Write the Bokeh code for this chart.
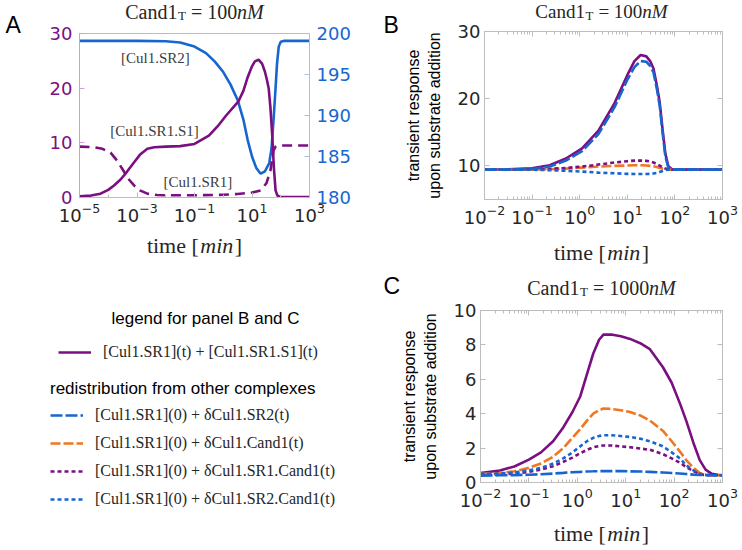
import numpy as np
from bokeh.plotting import figure
from bokeh.models import (Range1d, LinearAxis, LogAxis, FixedTicker, Label,
                          Legend, LegendItem)
from bokeh.layouts import row, column
from bokeh.embed import file_html
from bokeh.resources import INLINE

# ---------------- data ----------------
# Panel A (Cand1_T = 100 nM): time exponents (log10 min) and concentrations
a_sr2_logt = [-5, -3, -2, -1.5, -1, -0.6, -0.3, 0, 0.25, 0.5, 0.7, 0.85, 1.0, 1.15,
              1.3, 1.45, 1.6, 1.68, 1.75, 1.81, 1.87, 1.93, 2.0, 2.1, 3]
a_sr2 = [199.1, 199.1, 199.05, 198.9, 198.4, 197.6, 196.6, 195.3, 193.8, 191.9, 189.5,
         187.0, 185.0, 183.6, 182.9, 183.2, 184.2, 186.0, 189.5, 192.8, 196.3, 198.4,
         199.0, 199.1, 199.1]
a_s1_logt = [-5, -4.6, -4.27, -4.0, -3.8, -3.57, -3.35, -3.12, -2.9, -2.64, -2.4, -2.0,
             -1.5, -1.0, -0.5, -0.2, 0.1, 0.4, 0.53, 0.7, 0.85, 1.0, 1.1, 1.23, 1.35,
             1.45, 1.52, 1.58, 1.64, 1.70, 1.76, 1.82, 1.88, 1.95, 3]
a_s1 = [0.2, 0.35, 0.7, 1.4, 2.2, 3.3, 4.7, 6.3, 7.8, 8.9, 9.2, 9.3, 9.4, 9.8, 11.3,
        13.0, 15.0, 16.8, 17.6, 19.5, 22.0, 24.0, 24.9, 25.2, 24.5, 23.0, 21.5, 20.0,
        16.5, 11.7, 5.5, 1.3, 0.4, 0.15, 0.1]
a_sr1_logt = [-5, -4.5, -4.2, -3.92, -3.7, -3.47, -3.3, -3.1, -2.9, -2.64, -2.3, -2.0,
              -1.0, 0.0, 0.5, 1.0, 1.3, 1.5, 1.64, 1.75, 1.82, 1.9, 2.0, 3]
a_sr1 = [9.3, 9.2, 8.9, 8.2, 6.8, 4.9, 3.4, 2.2, 1.3, 0.7, 0.45, 0.4, 0.4, 0.5, 0.65,
         0.9, 1.3, 2.6, 4.9, 8.6, 9.3, 9.5, 9.5, 9.5]

# Panel B (Cand1_T = 100 nM)
b_logt = [-2, -1.5, -1, -0.63, -0.29, 0.05, 0.39, 0.73, 1.0, 1.15, 1.28, 1.4, 1.48,
          1.55, 1.62, 1.68, 1.74, 1.8, 1.86, 1.93, 2.0, 2.2, 3]
b_total = [9.45, 9.5, 9.65, 10.1, 11.1, 12.6, 15.2, 19.3, 23.5, 25.6, 26.5, 26.3, 25.6,
           24.5, 22.0, 19.5, 15.5, 11.8, 10.0, 9.55, 9.45, 9.45, 9.45]
b_sr2 = [9.45, 9.45, 9.55, 9.9, 10.8, 12.2, 14.7, 18.7, 22.8, 24.7, 25.6, 25.5, 24.9,
         23.9, 21.5, 19.0, 15.0, 11.4, 9.8, 9.5, 9.45, 9.45, 9.45]
b_cand1 = [9.45, 9.45, 9.45, 9.5, 9.6, 9.75, 9.9, 10.0, 10.05, 10.1, 10.1, 10.05, 10.0,
           9.95, 9.85, 9.7, 9.6, 9.5, 9.45, 9.45, 9.45, 9.45, 9.45]
b_sr1cand1 = [9.45, 9.45, 9.5, 9.55, 9.7, 9.9, 10.2, 10.5, 10.7, 10.78, 10.8, 10.75,
              10.65, 10.5, 10.3, 10.05, 9.8, 9.6, 9.5, 9.45, 9.45, 9.45, 9.45]
b_sr2cand1 = [9.45, 9.45, 9.43, 9.37, 9.27, 9.15, 9.0, 8.9, 8.82, 8.8, 8.8, 8.8, 8.82,
              8.86, 8.95, 9.1, 9.25, 9.4, 9.45, 9.45, 9.45, 9.45, 9.45]

# Panel C (Cand1_T = 1000 nM)
c_logt = [-2, -1.6, -1.3, -1.0, -0.75, -0.5, -0.29, -0.1, 0.06, 0.2, 0.33, 0.45, 0.54,
          0.7, 0.9, 1.09, 1.3, 1.5, 1.77, 1.95, 2.12, 2.25, 2.4, 2.53, 2.65, 2.78, 2.9, 3]
c_total = [0.55, 0.7, 0.93, 1.33, 1.75, 2.4, 3.2, 4.1, 5.0, 6.3, 7.5, 8.3, 8.6, 8.6,
           8.5, 8.35, 8.1, 7.75, 6.7, 5.8, 4.6, 3.6, 2.3, 1.3, 0.75, 0.5, 0.45, 0.42]
c_cand1 = [0.5, 0.55, 0.65, 0.85, 1.1, 1.5, 2.0, 2.6, 3.1, 3.6, 4.0, 4.2, 4.3, 4.28,
           4.2, 4.1, 3.9, 3.6, 3.0, 2.4, 1.8, 1.3, 0.85, 0.55, 0.45, 0.42, 0.42, 0.42]
c_sr2cand1 = [0.5, 0.52, 0.58, 0.7, 0.85, 1.1, 1.4, 1.75, 2.1, 2.4, 2.6, 2.7, 2.75,
              2.75, 2.7, 2.65, 2.55, 2.4, 2.1, 1.75, 1.4, 1.0, 0.7, 0.5, 0.45, 0.42,
              0.42, 0.42]
c_sr1cand1 = [0.45, 0.47, 0.52, 0.62, 0.75, 0.95, 1.2, 1.45, 1.7, 1.9, 2.05, 2.12, 2.15,
              2.15, 2.1, 2.05, 1.98, 1.9, 1.65, 1.4, 1.15, 0.9, 0.65, 0.48, 0.43, 0.42,
              0.42, 0.42]
c_sr2 = [0.4, 0.42, 0.43, 0.45, 0.48, 0.52, 0.56, 0.6, 0.62, 0.64, 0.65, 0.66, 0.66,
         0.66, 0.66, 0.65, 0.64, 0.62, 0.58, 0.55, 0.52, 0.49, 0.46, 0.44, 0.43, 0.42,
         0.42, 0.42]

a_left_ticks = [0, 10, 20, 30]
a_right_ticks = [180, 185, 190, 195, 200]
a_x_ticks = [1e-5, 1e-3, 1e-1, 1e1, 1e3]
bc_x_ticks = [1e-2, 1e-1, 1e0, 1e1, 1e2, 1e3]

legend_labels = [
    "[Cul1.SR1](t) + [Cul1.SR1.S1](t)",
    "[Cul1.SR1](0) + δCul1.SR2(t)",
    "[Cul1.SR1](0) + δCul1.Cand1(t)",
    "[Cul1.SR1](0) + δCul1.SR1.Cand1(t)",
    "[Cul1.SR1](0) + δCul1.SR2.Cand1(t)",
]

# ---------------- styles ----------------
PURPLE = "#7B0F82"
BLUE = "#1766D0"
ORANGE = "#F27520"
TXT = "#262626"
AXC = "#BDBDBD"
SERIF = "Liberation Serif"
SANS = "Liberation Sans"
TICKF = "DejaVu Sans"
LW = 2.6

STY = {
    "total": dict(color=PURPLE, line_dash="solid"),
    "sr2": dict(color=BLUE, line_dash="12 3"),
    "cand1": dict(color=ORANGE, line_dash="10 3"),
    "sr1cand1": dict(color=PURPLE, line_dash="4 3"),
    "sr2cand1": dict(color=BLUE, line_dash="4 3"),
}

TW = {' ': 250, '[': 333, ']': 333, 'a': 444, 'C': 667, 'd': 500, 'e': 444, 'i': 278,
      'm': 778, 'n': 500, 't': 278, 'T': 611, '=': 564, '0': 500, '1': 500, 'M': 889}
TWI = {'m': 722, 'i': 278, 'n': 500, 'M': 833}


def tw(s, size, italic):
    return float(sum((TWI.get(c, TW.get(c, 500)) if italic else TW.get(c, 500))
                     for c in s) * size / 1000.0)


def math_text(p, xc, yc, parts):
    total = sum(g + tw(t, s, it) for t, s, it, dy, g in parts)
    cur = xc - total / 2.0
    for t, s, it, dy, g in parts:
        cur += g
        p.add_layout(Label(x=round(cur, 1), y=yc + dy, text=t,
                           text_font=SERIF, text_font_size=f"{s}px",
                           text_font_style="italic" if it else "normal",
                           text_line_height=0.9,
                           text_color=TXT, text_align="left", text_baseline="middle"))
        cur += tw(t, s, it)


def title_parts(conc, sub_dy=-4, size=20):
    return [("Cand1", size, False, 0, 0), ("T", 13, False, sub_dy, 0.5),
            ("= " + conc, size, False, 0, 5), ("nM", size, True, 0, 0)]


time_parts = [("time [", 22, False, 0, 0), ("min", 22, True, 0, 1.5), ("]", 22, False, 0, 1.5)]


def style_axis(ax, lbl_color=TXT, line_color=AXC, size="18px"):
    ax.major_label_text_font = TICKF
    ax.major_label_text_font_size = size
    ax.major_label_text_color = lbl_color
    ax.major_label_text_line_height = 1.0
    ax.axis_line_color = line_color
    ax.major_tick_line_color = line_color
    ax.minor_tick_line_color = line_color
    ax.major_tick_in = 5
    ax.major_tick_out = 0
    ax.minor_tick_in = 3
    ax.minor_tick_out = 0
    ax.major_label_standoff = 5


def mirror_axes(p, xticker, yticker):
    top = LogAxis(ticker=xticker)
    style_axis(top, size="2px")
    top.major_label_text_alpha = 0
    top.major_label_standoff = 0
    p.add_layout(top, "above")
    right = LinearAxis(ticker=yticker)
    style_axis(right, size="2px")
    right.major_label_text_alpha = 0
    right.major_label_standoff = 0
    p.add_layout(right, "right")


def letter(p, x, y, s):
    p.add_layout(Label(x=x, y=y, text=s, text_font=SANS, text_font_size="23px",
                       text_color="black", text_align="left", text_baseline="middle"))


def base_fig(w, h, xr, yr, l, r, t, b):
    p = figure(width=w, height=h, x_axis_type="log", x_range=Range1d(*xr),
               y_range=Range1d(*yr), output_backend="svg", toolbar_location=None,
               min_border_left=l, min_border_right=r, min_border_top=t,
               min_border_bottom=b, frame_align=False)
    p.xgrid.visible = False
    p.ygrid.visible = False
    p.outline_line_color = AXC
    p.background_fill_color = "white"
    p.border_fill_color = "white"
    return p


def strip(w, h):
    s = figure(width=w, height=h, x_range=Range1d(0, w), y_range=Range1d(0, h),
               output_backend="svg", toolbar_location=None, min_border=0,
               x_axis_location=None, y_axis_location=None, frame_align=False)
    s.xgrid.visible = False
    s.ygrid.visible = False
    s.outline_line_color = None
    s.border_fill_color = "white"
    return s


# ---------------- Panel A ----------------
sLA = strip(40, 227)
letter(sLA, 5, 227 - 24, "A")
sA = strip(340, 22)
math_text(sA, 154, 11, title_parts("100"))

pA = base_fig(340, 205, (1e-5, 1e3), (0, 30), 39, 71, 11, 30)
pA.extra_y_ranges = {"r": Range1d(180, 200)}
pA.xaxis.ticker = FixedTicker(ticks=a_x_ticks, minor_ticks=[1e-4, 1e-2, 1e0, 1e2])
pA.yaxis.ticker = FixedTicker(ticks=a_left_ticks)
style_axis(pA.xaxis[0])
style_axis(pA.yaxis[0], PURPLE, "#C9A3CD")
pA.yaxis[0].major_label_standoff = 7
ra = LinearAxis(y_range_name="r", ticker=FixedTicker(ticks=a_right_ticks))
style_axis(ra, BLUE, "#A9C0E8")
ra.major_label_standoff = 7
pA.add_layout(ra, "right")

pA.line(10.0 ** np.array(a_sr2_logt), a_sr2, y_range_name="r", color=BLUE, line_width=LW)
pA.line(10.0 ** np.array(a_s1_logt), a_s1, color=PURPLE, line_width=LW)
pA.line(10.0 ** np.array(a_sr1_logt), a_sr1, color=PURPLE, line_width=LW, line_dash="10 6")

for txt, lx, ly in [("[Cul1.SR2]", 10 ** -2.36, 25.6), ("[Cul1.SR1.S1]", 10 ** -2.39, 12.25),
                    ("[Cul1.SR1]", 10 ** -0.88, 2.75)]:
    pA.add_layout(Label(x=lx, y=ly, text=txt, text_font=SERIF, text_font_size="15px",
                        text_color="#3C3C3C", text_align="center", text_baseline="middle"))

# ---------------- Legend panel (with panel A's x label) ----------------
LH = 323
pL = strip(380, LH)
math_text(pL, 194, LH - 18, time_parts)
keys = ["total", "sr2", "cand1", "sr1cand1", "sr2cand1"]
# legend proxies: drawn outside the visible range, only used for legend glyphs
dummies = {k: pL.line(x=[-20, -10], y=[-20, -10], line_width=LW, **STY[k]) for k in keys}

leg_common = dict(border_line_color=None, background_fill_alpha=0, padding=0, margin=0,
                  spacing=8, glyph_width=33, glyph_height=20, label_height=20,
                  label_standoff=12, label_text_font=SERIF, label_text_font_size="16px",
                  label_text_color=TXT)
leg1 = Legend(items=[LegendItem(label=legend_labels[0], renderers=[dummies["total"]])],
              location=(58, 188), **leg_common)
leg2 = Legend(items=[LegendItem(label=legend_labels[i], renderers=[dummies[k]])
                     for i, k in enumerate(keys) if i > 0],
              location=(50, 41), title="redistribution from other complexes",
              title_text_font=SANS, title_text_font_size="17px",
              title_text_font_style="normal", title_text_color="black",
              title_standoff=6, **leg_common)
pL.add_layout(leg1)
pL.add_layout(leg2)
pL.add_layout(Label(x=205, y=LH - 91, text="legend for panel B and C", text_font=SANS,
                    text_font_size="17px", text_color="black", text_align="center",
                    text_baseline="middle"))


# ---------------- Panels B and C ----------------
def response_fig(w, h, yr, left, top, bottom, yticks):
    p = base_fig(w, h, (1e-2, 1e3), yr, left, 20, top, bottom)
    minor = [m * 10.0 ** e for e in range(-2, 3) for m in range(2, 10)]
    p.xaxis.ticker = FixedTicker(ticks=bc_x_ticks, minor_ticks=minor)
    p.yaxis.ticker = FixedTicker(ticks=yticks)
    style_axis(p.xaxis[0])
    style_axis(p.yaxis[0])
    p.yaxis[0].major_label_standoff = 4
    p.yaxis.axis_label = "transient response\nupon substrate addition"
    p.yaxis.axis_label_text_font = SANS
    p.yaxis.axis_label_text_font_size = "16px"
    p.yaxis.axis_label_text_font_style = "normal"
    p.yaxis.axis_label_text_color = "black"
    p.yaxis.axis_label_standoff = 12
    mirror_axes(p, FixedTicker(ticks=bc_x_ticks, minor_ticks=minor), FixedTicker(ticks=yticks))
    return p


sLB = strip(22, 229)
letter(sLB, 3, 229 - 24, "B")
sB = strip(340, 22)
math_text(sB, 199, 11, title_parts("100", -3.5, 19))

pB = response_fig(340, 207, (5, 30), 78, 9, 30, [10, 20, 30])
tB = 10.0 ** np.array(b_logt)
for k, ys in [("total", b_total), ("cand1", b_cand1), ("sr1cand1", b_sr1cand1),
              ("sr2cand1", b_sr2cand1), ("sr2", b_sr2)]:
    pB.line(tB, ys, line_width=LW, **STY[k])

MH = 70
sM = strip(362, MH)
math_text(sM, 221, MH - 23, time_parts)
letter(sM, 3, 14, "C")
math_text(sM, 221, 12, title_parts("1000"))

pC = response_fig(362, 213, (0, 10), 100, 11, 30, [0, 2, 4, 6, 8, 10])
tC = 10.0 ** np.array(c_logt)
for k, ys in [("total", c_total), ("cand1", c_cand1), ("sr1cand1", c_sr1cand1),
              ("sr2cand1", c_sr2cand1), ("sr2", c_sr2)]:
    pC.line(tC, ys, line_width=LW, **STY[k])

sC = strip(362, 38)
math_text(sC, 221, 17, time_parts)

left_col = column(row(sLA, column(sA, pA)), pL)
right_col = column(row(sLB, column(sB, pB)), sM, pC, sC)
layout = row(left_col, right_col)
open("out.html", "w").write(file_html(layout, INLINE))
